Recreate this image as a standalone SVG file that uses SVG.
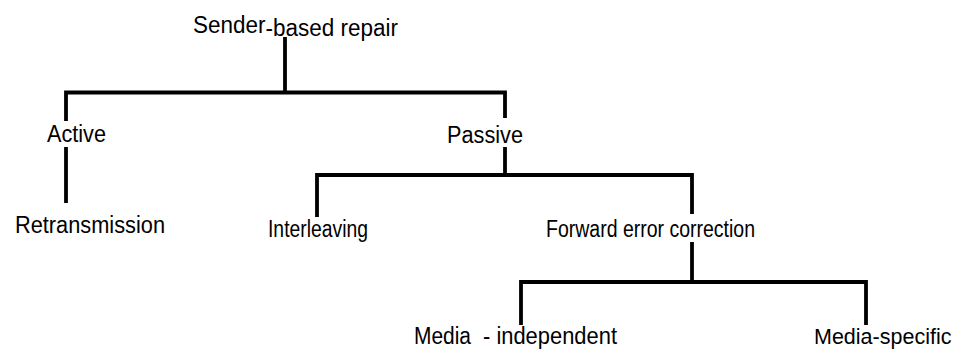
<svg xmlns="http://www.w3.org/2000/svg" width="959" height="352" viewBox="0 0 959 352">
  <style>
    .lbl { font-family: "Liberation Sans", Arial, sans-serif; font-size: 23px; fill: #000; }
    .edge { fill: none; stroke: #000; stroke-width: 3.8; stroke-linejoin: miter; stroke-linecap: butt; }
  </style>
  <rect width="959" height="352" fill="#fff"/>

  <g id="connectors">
    <!-- root stem and first-level bracket -->
    <path class="edge" d="M285,37 V92.5"/>
    <path class="edge" d="M66,121 V92.5 H505 V118"/>
    <!-- Active -> Retransmission -->
    <path class="edge" d="M66,147 V203"/>
    <!-- Passive stem and bracket -->
    <path class="edge" d="M505,147 V175"/>
    <path class="edge" d="M317,217 V175 H692 V214"/>
    <!-- FEC stem and bracket -->
    <path class="edge" d="M692,242 V282"/>
    <path class="edge" d="M521,325 V282 H866 V325"/>
  </g>

  <g id="node-root">
    <text class="lbl" x="193" y="32.5" textLength="205" lengthAdjust="spacingAndGlyphs">Sender<tspan dy="3.5">-based repair</tspan></text>
  </g>
  <g id="node-active">
    <text class="lbl" x="47" y="142" textLength="59" lengthAdjust="spacingAndGlyphs">Active</text>
  </g>
  <g id="node-passive">
    <text class="lbl" x="447" y="143" textLength="76" lengthAdjust="spacingAndGlyphs">Passive</text>
  </g>
  <g id="node-retransmission">
    <text class="lbl" x="15" y="233" textLength="150" lengthAdjust="spacingAndGlyphs">Retransmission</text>
  </g>
  <g id="node-interleaving">
    <text class="lbl" x="268" y="237" textLength="100" lengthAdjust="spacingAndGlyphs">Interleaving</text>
  </g>
  <g id="node-fec">
    <text class="lbl" x="546" y="237" textLength="209" lengthAdjust="spacingAndGlyphs">Forward error correction</text>
  </g>
  <g id="node-media-independent">
    <text class="lbl" y="344"><tspan x="414" textLength="57" lengthAdjust="spacingAndGlyphs">Media</tspan><tspan x="483" textLength="134" lengthAdjust="spacingAndGlyphs">- independent</tspan></text>
  </g>
  <g id="node-media-specific">
    <text class="lbl" x="814" y="344" style="font-size:21.5px">Media-specific</text>
  </g>
</svg>
